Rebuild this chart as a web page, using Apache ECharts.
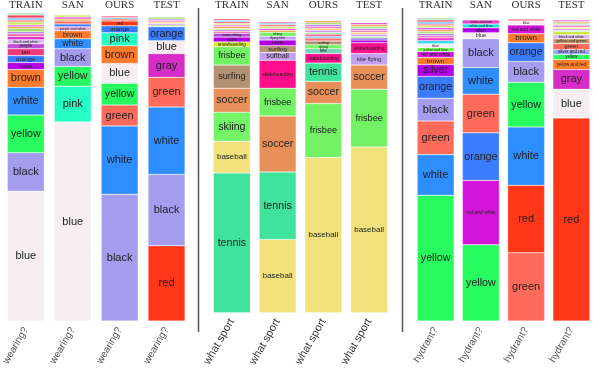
<!DOCTYPE html>
<html>
<head>
<meta charset="utf-8">
<script src="https://cdn.jsdelivr.net/npm/echarts@6/dist/echarts.min.js"></script>
<style>
  html, body { margin: 0; padding: 0; background: #fff; }
  #main { width: 598px; height: 369px; }
</style>
</head>
<body>
<div id="main"></div>
<script>
// column headers and the question under each panel
const sources = ['TRAIN', 'SAN', 'OURS', 'TEST'];
const questions = ['wearing?', 'what sport', 'hydrant?'];

// answer shares per bar, listed bottom -> top; "minor" are the thin unlabeled stripes on top
const wearTrainLabels = ['blue', 'black', 'yellow', 'white', 'brown', 'none', 'orange', 'tan', 'purple', 'black and white', 'gray'];
const wearTrainValues = [131, 39, 38, 28, 18, 7, 7, 7, 5, 4, 3];
const wearTrainMinor = [3, 2, 3, 2, 2, 3, 2, 2, 3, 2];

const wearSanLabels = ['blue', 'pink', 'yellow', 'black', 'white', 'brown', 'purple and white', 'light blue', 'green'];
const wearSanValues = [201, 36, 20, 18, 10, 8, 4, 3, 3];
const wearSanMinor = [2, 2, 2];

const wearOursLabels = ['black', 'white', 'green', 'yellow', 'blue', 'brown', 'pink', 'orange', 'red'];
const wearOursValues = [128, 69, 21, 22, 20, 18, 13, 7, 5];
const wearOursMinor = [2, 1.5, 1.5];

const wearTestLabels = ['red', 'black', 'white', 'green', 'gray', 'blue', 'orange'];
const wearTestValues = [76, 72, 68, 30, 24, 13, 14];
const wearTestMinor = [2, 1.5, 1.5, 1.5, 1.5, 2];

const sportTrainLabels = ['tennis', 'baseball', 'skiing', 'soccer', 'surfing', 'frisbee', 'snowboarding', 'none', 'water skiing'];
const sportTrainValues = [145, 33, 30, 25, 24, 19, 5, 5, 4];
const sportTrainMinor = [2, 1.5, 1.5, 2, 1.5, 1.5, 2, 1.5, 1.5];

const sportSanLabels = ['baseball', 'tennis', 'soccer', 'frisbee', 'skateboarding', 'softball', 'surfing', 'none', 'flying kite', 'skiing'];
const sportSanValues = [76, 70, 58, 29, 29, 8, 7, 6, 4, 4];
const sportSanMinor = [2, 2, 2, 2, 1.5, 1.5];

const sportOursLabels = ['baseball', 'frisbee', 'soccer', 'tennis', 'skateboarding', 'kite', 'skiing', 'surfing'];
const sportOursValues = [161, 56, 23, 19, 10, 5, 4, 4];
const sportOursMinor = [3, 2, 2, 2, 2, 2, 2, 2, 2, 2];

const sportTestLabels = ['baseball', 'frisbee', 'soccer', 'kite flying', 'skateboarding', 'none', 'football'];
const sportTestValues = [172, 60, 25, 12, 11, 3, 2];
const sportTestMinor = [2, 2, 2, 2, 2, 2, 2, 2];

const hydTrainLabels = ['yellow', 'white', 'green', 'black', 'orange', 'silver', 'brown', 'red and white', 'yellow and blue', 'blue', 'white and blue', 'white and red'];
const hydTrainValues = [127, 41, 34, 23, 22, 12, 7, 6, 4, 4, 3, 3];
const hydTrainMinor = [2, 2, 2, 2, 2, 2, 2, 2, 2, 2];

const hydSanLabels = ['yellow', 'red and white', 'orange', 'green', 'white', 'black', 'blue', 'silver', 'white and blue', 'white and red'];
const hydSanValues = [77, 65, 48, 39, 27, 29, 6, 5, 4, 4];
const hydSanMinor = [];

const hydOursLabels = ['green', 'red', 'white', 'yellow', 'black', 'orange', 'brown', 'red and white', 'blue'];
const hydOursValues = [69, 68, 59, 45, 21, 19, 9, 9, 4];
const hydOursMinor = [2];

const hydTestLabels = ['red', 'blue', 'gray', 'yellow and red', 'yellow', 'silver and red', 'green', 'yellow and green', 'black and white', 'black and yellow'];
const hydTestValues = [205, 29, 20, 10, 5, 5, 6, 5, 4, 3];
const hydTestMinor = [1.5, 1.5, 1.5, 1.5, 1.5, 1.5, 1.5, 1.5];

// colours per answer
const answerColors = {
  'blue': '#f8eef2', 'black': '#a59bef', 'yellow': '#27fb60', 'white': '#2e8dff',
  'brown': '#ff7a2c', 'pink': '#25ffc2', 'green': '#ff6b5a', 'red': '#ff3618',
  'gray': '#d62dc8', 'orange': '#3b7cff', 'none': '#b400e6', 'tan': '#f23a78',
  'purple': '#c050d8', 'black and white': '#d8b8f0', 'purple and white': '#e8a8d8',
  'light blue': '#3a7afc', 'silver': '#b200ea', 'red and white': '#d414d8',
  'yellow and blue': '#66ff44', 'white and blue': '#20e0e8', 'white and red': '#f03cc8',
  'yellow and red': '#ff7c2a', 'silver and red': '#9aa8f8', 'yellow and green': '#c99a6a',
  'black and yellow': '#c8e830',
  'tennis': '#40e39c', 'baseball': '#f3e27c', 'skiing': '#73f565', 'frisbee': '#73f265',
  'soccer': '#e8905a', 'surfing': '#b39272', 'skateboarding': '#ff0f8c', 'softball': '#c39ff2',
  'snowboarding': '#d4ee1a', 'kite flying': '#c3a0f0', 'flying kite': '#c3a0f0',
  'water skiing': '#b048d8', 'kite': '#70d8b8', 'football': '#6a50f0'
};
const stripeColors = ['#f06ab0', '#b070f0', '#9ae06a', '#f0a040', '#e040e0', '#c8e860', '#ff7070', '#60b0ff', '#ff4060', '#a0e0a0', '#d080ff', '#ffd060'];

const panels = [
  [[wearTrainLabels, wearTrainValues, wearTrainMinor], [wearSanLabels, wearSanValues, wearSanMinor],
   [wearOursLabels, wearOursValues, wearOursMinor], [wearTestLabels, wearTestValues, wearTestMinor]],
  [[sportTrainLabels, sportTrainValues, sportTrainMinor], [sportSanLabels, sportSanValues, sportSanMinor],
   [sportOursLabels, sportOursValues, sportOursMinor], [sportTestLabels, sportTestValues, sportTestMinor]],
  [[hydTrainLabels, hydTrainValues, hydTrainMinor], [hydSanLabels, hydSanValues, hydSanMinor],
   [hydOursLabels, hydOursValues, hydOursMinor], [hydTestLabels, hydTestValues, hydTestMinor]]
];

const yMax = 311;
const plotH = 309;
const gridPos = [{ left: 0, width: 190 }, { left: 209, width: 183 }, { left: 413, width: 181 }];

const chart = echarts.init(document.getElementById('main'));
const grid = [], xAxis = [], yAxis = [], series = [];

panels.forEach((bars, p) => {
  grid.push({ left: gridPos[p].left, width: gridPos[p].width, top: 12, height: plotH });
  // header axis (top) carries the series
  xAxis.push({
    type: 'category', gridIndex: p, position: 'top', data: sources,
    axisLine: { show: false }, axisTick: { show: false },
    axisLabel: { margin: 2, fontSize: 11, color: '#333', fontFamily: 'Liberation Serif' }
  });
  xAxis.push({
    type: 'category', gridIndex: p, position: 'bottom', data: sources.map(() => questions[p]),
    axisLine: { show: false }, axisTick: { show: false },
    axisLabel: {
      rotate: 60, margin: 7, interval: 0,
      fontSize: p === 1 ? 11 : 10, color: p === 1 ? '#333' : '#555',
      fontFamily: 'Liberation Sans', formatter: (v) => v
    }
  });
  yAxis.push({ type: 'value', gridIndex: p, min: 0, max: yMax, show: false });

  const levels = Math.max(...bars.map(b => b[1].length + b[2].length));
  for (let k = 0; k < levels; k++) {
    const data = bars.map(([labels, values, minor], i) => {
      if (k < values.length) {
        const name = labels[k];
        const px = values[k] * plotH / yMax;
        const fs = Math.min(11, 64 / name.length, px * 0.9);
        return {
          value: values[k], name: name,
          itemStyle: { color: answerColors[name] || '#999' },
          label: { show: px >= 3, fontSize: fs, formatter: name }
        };
      }
      const j = k - values.length;
      if (j < minor.length) {
        return {
          value: minor[j],
          itemStyle: { color: stripeColors[(j + i * 3) % stripeColors.length] },
          label: { show: false }
        };
      }
      return '-';
    });
    series.push({
      type: 'bar', xAxisIndex: p * 2, yAxisIndex: p, stack: 'p' + p,
      barWidth: 37, data: data,
      itemStyle: { borderColor: 'rgba(255,255,255,0.5)', borderWidth: 0.5 },
      label: { position: 'inside', color: '#222', fontFamily: 'Liberation Sans' },
      emphasis: { disabled: true }
    });
  }
});

chart.setOption({
  animation: false,
  grid: grid,
  xAxis: xAxis,
  yAxis: yAxis,
  series: series,
  graphic: [
    { type: 'line', shape: { x1: 198.5, y1: 8, x2: 198.5, y2: 332 }, style: { stroke: '#555', lineWidth: 1.5 } },
    { type: 'line', shape: { x1: 402.5, y1: 8, x2: 402.5, y2: 332 }, style: { stroke: '#555', lineWidth: 1.5 } }
  ]
});
</script>
</body>
</html>
